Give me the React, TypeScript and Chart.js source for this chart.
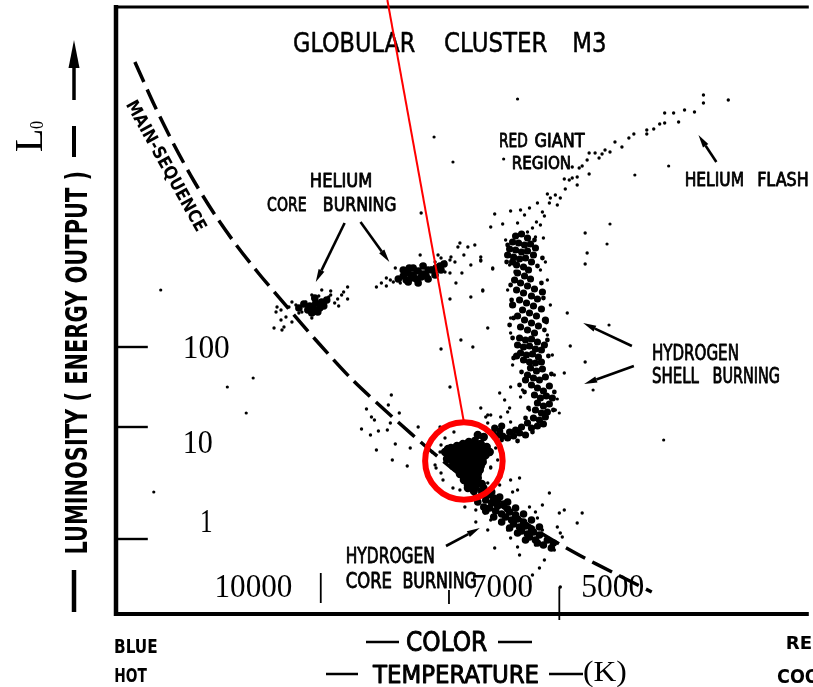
import React, { useEffect, useRef } from 'react';
import { Chart, registerables } from 'chart.js';

Chart.register(...registerables);

type Pt = [number, number];

// Colour axis (x): blue / hot on the left, red / cool on the right, in color-index units.
// Brightness axis (y): luminosity rises upward, in magnitude-like units.

// Dashed zero-age main sequence
const mainSequenceCurve: Pt[] = [
  [1.9, 55.2], [3.9, 50.8], [5.9, 46.8], [7.9, 43.2], [9.9, 40.0], [12.1, 36.9], [14.4, 34.0],
  [17.4, 30.5], [20.1, 27.4], [23.7, 23.5], [27.7, 19.8], [31.7, 16.3], [35.4, 13.3], [38.9, 10.7],
  [42.6, 8.2], [46.4, 6.0], [50.1, 4.1], [53.9, 2.2],
];

// Horizontal branch, blue part
const blueHorizontalBranch: Pt[] = [
  [23.3, 32.7], [22.7, 31.9], [23.3, 31.5], [22.3, 31.5], [22.4, 30.8], [21.6, 32.3], [21.6, 31.9],
  [21.1, 31.1], [20.4, 31.8], [19.7, 31.9], [19.1, 31.2], [19.7, 29.6], [17.7, 31.2], [18.1, 30.9],
  [17.4, 30.7], [16.2, 30.7], [16.6, 30.4], [16.1, 30.2], [17.1, 29.7], [16.6, 29.4], [17.7, 29.2],
  [18.4, 30.1], [18.7, 30.2], [15.9, 28.6], [16.7, 28.4], [16.9, 28.7], [21.4, 31.7], [20.7, 32.4],
  [20.2, 31.4], [22.0, 31.1], [22.9, 32.2],
];
const blueHorizontalBranchCore: Pt[] = [
  [18.9, 31.0], [19.5, 30.8], [20.1, 31.1], [20.7, 31.2], [19.3, 30.4], [19.9, 30.5], [20.5, 30.6],
  [19.7, 30.1], [20.3, 30.2], [20.9, 30.8], [18.4, 30.6], [21.2, 31.4], [20.0, 31.6],
];

// Horizontal branch, red part
const redHorizontalBranch: Pt[] = [
  [26.2, 32.7], [26.7, 33.1], [27.2, 32.8], [27.6, 33.4], [28.1, 34.6], [27.9, 33.2], [28.4, 33.6],
  [28.6, 33.1], [29.1, 34.1], [29.4, 34.4], [30.1, 34.2], [30.7, 34.9], [31.1, 34.1], [31.7, 34.6],
  [32.4, 34.9], [32.7, 35.6], [33.1, 35.2], [33.6, 35.4], [33.7, 35.7], [34.1, 35.2], [34.4, 36.7],
  [34.6, 37.1], [35.4, 36.7], [32.4, 35.9], [30.6, 35.9], [33.1, 34.2], [33.6, 34.1], [34.8, 34.1],
  [35.7, 34.9], [34.2, 33.1], [33.6, 31.5], [35.7, 31.7], [36.1, 36.9], [36.7, 35.4], [37.9, 34.6],
  [36.9, 32.3], [30.7, 40.1], [34.7, 27.4], [35.9, 26.7], [32.7, 26.5], [32.1, 35.2], [35.0, 35.9],
  [27.2, 33.6],
];
const redHorizontalBranchCore: Pt[] = [
  [28.9, 33.8], [29.4, 34.1], [29.9, 33.9], [30.4, 34.3], [30.9, 34.0], [31.4, 34.4], [29.2, 33.4],
  [29.7, 33.6], [30.2, 33.5], [30.7, 33.7], [31.2, 33.8], [31.8, 34.4], [32.2, 34.6], [32.6, 34.8],
  [33.0, 35.0], [29.5, 34.6], [28.4, 33.5], [28.9, 34.4], [29.9, 34.6], [30.9, 34.8], [29.4, 33.2],
  [30.4, 33.1], [31.4, 33.5], [32.1, 33.9], [32.7, 34.4],
];

// Red giant branch (hydrogen shell burning)
const redGiantBranchCore: Pt[] = [
  [40.2, 37.8], [40.8, 38.0], [41.4, 37.6], [39.9, 37.2], [40.5, 37.1], [41.1, 36.9], [41.7, 37.0],
  [39.6, 36.5], [40.2, 36.4], [40.8, 36.2], [41.4, 36.3], [42.0, 35.9], [40.0, 35.7], [40.6, 35.5],
  [41.2, 35.6], [41.8, 35.2], [40.3, 34.9], [41.0, 34.7], [41.5, 34.4], [39.9, 35.2], [42.2, 36.6],
  [39.4, 35.9],
  [40.4, 34.1], [41.1, 33.8], [41.7, 33.5], [40.7, 33.1], [41.4, 32.8], [42.1, 32.5], [40.3, 32.4],
  [41.0, 32.1], [41.8, 31.8], [42.4, 31.5], [40.6, 31.4], [41.3, 31.1], [42.0, 30.8], [40.9, 30.4],
  [41.6, 30.1], [42.3, 29.8], [40.4, 29.8], [41.1, 29.4], [41.8, 29.1], [42.5, 28.8], [40.7, 28.7],
  [41.4, 28.4], [42.1, 28.1], [42.8, 30.5], [42.9, 32.2], [39.9, 30.9], [43.2, 29.4], [40.1, 33.4],
  [40.6, 27.6], [41.2, 27.4], [41.8, 27.5], [42.4, 27.2], [40.4, 26.9], [41.0, 26.7], [41.6, 26.8],
  [42.2, 26.5], [42.8, 26.4], [40.7, 26.1], [41.3, 25.9], [41.9, 26.0], [42.5, 25.7], [41.0, 25.4],
  [41.6, 25.2], [42.2, 25.1], [42.8, 25.2], [40.3, 25.8], [43.1, 26.9],
  [41.7, 24.6], [42.3, 24.3], [42.9, 24.5], [41.4, 23.9], [42.0, 23.6], [42.6, 23.4], [43.2, 23.7],
  [41.8, 22.9], [42.4, 22.6], [43.0, 22.3], [42.1, 21.9], [42.7, 21.6], [43.3, 21.8], [42.4, 21.1],
  [43.0, 20.8], [43.6, 21.0], [42.2, 20.4], [42.8, 20.1], [43.4, 20.2], [42.0, 19.6], [42.6, 19.4],
  [43.2, 19.7], [41.2, 23.4], [43.6, 22.8], [43.9, 21.6],
  [41.4, 19.1], [40.8, 18.7], [40.2, 18.4], [39.6, 18.2], [41.8, 18.6], [42.4, 18.8], [38.9, 17.8],
  [39.4, 17.6], [40.0, 17.8], [40.6, 18.1], [41.2, 17.9], [43.0, 19.0],
  [38.1, 18.6], [38.6, 18.3], [38.3, 17.8], [38.8, 18.8], [37.9, 18.1],
];
// Ragged edges of the giant branch
const redGiantBranchEdge: Pt[] = [
  [39.4, 36.9], [42.1, 37.4], [39.3, 35.2], [42.4, 34.8], [39.7, 32.9], [42.8, 33.1], [39.8, 31.4],
  [43.0, 31.6], [40.0, 29.6], [43.3, 29.2], [39.9, 27.6], [43.4, 27.4], [40.0, 25.6], [43.5, 25.8],
  [40.8, 24.2], [43.8, 24.0], [41.1, 22.2], [44.1, 22.2], [41.5, 20.6], [44.0, 20.4], [41.2, 19.6],
  [38.8, 17.4], [40.4, 17.3], [41.9, 18.2], [42.9, 35.6], [40.2, 34.2], [39.6, 28.9], [43.1, 28.4],
  [40.6, 22.9],
];
const redGiantBranchStars: Pt[] = [
  [43.4, 42.0], [44.2, 41.9], [42.4, 41.1], [43.6, 41.1], [44.4, 40.9], [41.6, 40.6], [40.7, 40.4],
  [39.7, 40.3], [38.1, 40.0], [42.9, 40.2], [43.1, 39.8], [41.1, 39.9], [40.4, 39.1], [38.9, 39.0],
  [37.7, 38.7], [42.3, 39.2], [42.7, 38.9], [41.9, 38.6], [41.4, 38.2], [42.2, 37.7], [36.7, 35.7],
  [36.7, 35.3], [37.9, 34.5], [36.9, 32.4], [47.2, 38.1], [47.4, 36.1], [47.2, 35.0], [45.4, 30.1],
  [45.7, 26.8], [47.2, 25.2], [45.1, 24.1], [37.4, 28.6], [39.7, 28.1], [38.6, 22.1], [39.1, 21.4],
  [40.7, 21.7], [36.7, 20.6], [37.2, 19.7], [39.6, 34.9], [43.2, 35.2], [43.4, 33.4], [39.4, 32.4],
  [43.7, 30.9], [39.7, 29.6], [43.4, 27.9], [39.9, 24.9], [43.9, 25.9], [44.1, 23.9], [40.9, 22.4],
  [44.2, 20.4], [41.6, 20.4], [37.7, 19.9], [38.7, 19.7], [39.4, 20.2], [39.7, 22.7], [39.6, 20.6],
  [39.7, 19.2], [37.4, 19.1], [43.0, 37.6], [39.2, 37.4], [42.7, 34.4],
];

// Upper giant branch up to the helium flash
const upperGiantStars: Pt[] = [
  [59.1, 51.9], [59.1, 51.1], [61.6, 51.4], [58.2, 50.2], [57.2, 50.4], [56.1, 50.1], [55.2, 50.1],
  [56.6, 49.2], [55.2, 49.1], [54.7, 49.0], [54.1, 48.5], [53.4, 48.4], [53.4, 48.0], [52.1, 48.0],
  [51.6, 47.6], [50.2, 47.2], [50.9, 46.7], [49.7, 46.2], [49.2, 46.4], [48.9, 46.0], [48.2, 46.1],
  [48.6, 45.6], [47.6, 46.1], [47.4, 45.4], [46.9, 44.8], [46.6, 44.6], [47.6, 44.0], [46.4, 43.7],
  [45.9, 43.6], [45.6, 43.4], [45.1, 43.5], [46.4, 42.9], [45.2, 42.5], [44.7, 41.6], [43.7, 41.6],
  [45.9, 44.7],
];

// Turn-off and subgiant stars
const turnoffCore: Pt[] = [
  [33.1, 16.2], [33.7, 16.6], [34.3, 16.8], [34.9, 17.0], [35.5, 17.2], [36.1, 17.3], [36.7, 17.0],
  [37.3, 16.7], [33.6, 15.8], [34.2, 15.9], [34.8, 16.1], [35.4, 16.3], [36.0, 16.4], [36.6, 16.2],
  [37.2, 15.9], [33.9, 15.2], [34.5, 15.3], [35.1, 15.5], [35.7, 15.6], [36.3, 15.4], [36.9, 15.2],
  [34.2, 14.6], [34.8, 14.7], [35.4, 14.8], [36.0, 14.6], [36.6, 14.4], [34.6, 14.0], [35.2, 14.1],
  [35.8, 13.8], [36.4, 13.6], [35.0, 13.4], [35.6, 13.1], [36.2, 12.8], [36.8, 13.0], [35.4, 12.6],
  [36.0, 12.3], [33.9, 14.8], [33.3, 15.5], [37.0, 17.7], [37.6, 16.2], [36.4, 17.9],
  [33.4, 16.5], [34.0, 16.3], [34.6, 16.4], [35.2, 16.7], [35.8, 16.8], [36.4, 16.7], [37.0, 16.4],
  [33.9, 15.5], [34.5, 15.7], [35.1, 15.8], [35.7, 16.0], [36.3, 15.8], [36.9, 15.6], [34.3, 15.0],
  [34.9, 15.1], [35.5, 15.2], [36.1, 15.0], [36.7, 14.8], [34.6, 14.4], [35.2, 14.4], [35.8, 14.2],
  [36.4, 14.0], [35.0, 13.7], [35.6, 13.5], [36.2, 13.3], [35.4, 12.9], [36.0, 12.6],
];

// Main sequence below the turn-off (hydrogen core burning)
const mainSequenceCore: Pt[] = [
  [36.8, 12.2], [37.4, 11.9], [38.0, 11.6], [37.2, 11.4], [37.8, 11.1], [38.4, 10.8], [37.6, 10.6],
  [38.2, 10.3], [38.8, 10.0], [38.4, 11.4], [39.0, 11.0], [39.4, 10.5], [39.2, 9.7], [39.8, 9.4],
  [39.6, 10.2], [40.2, 9.9], [40.0, 9.0], [40.6, 8.7], [40.4, 9.5], [41.0, 9.2], [40.8, 8.3],
  [41.4, 8.0], [41.2, 8.8], [41.8, 8.5], [41.6, 7.7], [42.2, 7.4], [42.0, 8.2], [42.6, 7.9],
  [42.4, 7.1], [43.0, 6.9], [43.4, 7.4], [44.0, 7.1], [43.8, 6.6], [37.0, 10.7], [36.2, 11.6],
  [37.0, 12.6], [37.8, 12.2], [38.6, 11.7], [39.4, 11.2], [40.2, 10.6], [41.0, 10.0], [41.8, 9.4],
  [42.6, 8.7], [36.4, 11.2], [37.2, 10.3], [38.0, 9.7], [38.8, 9.2], [39.6, 8.6], [40.4, 8.1],
  [41.2, 7.4],
];
const turnoffStars: Pt[] = [
  [27.7, 21.9], [27.4, 20.9], [25.2, 20.5], [28.5, 20.1], [25.7, 19.7], [26.0, 19.4], [27.6, 19.1],
  [24.7, 18.5], [26.4, 18.3], [27.3, 18.4], [25.6, 17.9], [30.4, 18.7], [28.1, 17.0], [29.6, 16.6],
  [26.2, 16.4], [27.8, 15.4], [29.3, 14.8], [34.0, 18.2], [33.1, 17.6], [32.7, 16.9], [32.6, 16.2],
  [31.8, 16.2], [32.1, 14.9], [32.2, 14.6], [32.7, 14.1], [32.9, 13.4], [33.9, 12.6], [34.6, 12.4],
  [38.2, 16.6], [38.4, 15.4], [37.7, 14.6], [37.4, 13.1], [35.1, 10.7], [39.7, 13.4], [39.9, 12.2],
  [40.6, 13.6], [40.4, 12.4], [43.6, 12.1], [42.9, 10.9], [45.1, 10.4], [46.9, 10.1], [44.6, 10.1],
  [42.2, 10.2], [42.4, 9.6], [41.6, 10.7], [46.4, 9.1], [44.4, 8.7], [42.9, 8.4], [44.7, 8.1],
  [44.9, 7.7], [44.2, 7.2], [44.1, 6.4], [42.2, 6.9], [40.4, 6.7], [39.7, 7.6], [39.4, 8.4],
  [38.9, 9.2], [37.7, 9.4], [37.1, 10.1], [36.2, 10.4], [36.2, 9.2], [37.4, 8.4], [38.1, 6.6],
  [40.6, 5.9], [43.1, 5.4], [42.6, 4.6], [41.9, 3.9], [44.7, 2.7], [38.7, 13.7], [38.6, 12.9],
  [37.7, 14.7], [33.6, 22.7], [32.6, 18.7], [37.4, 19.9],
];

// Scattered field stars
const fieldStars: Pt[] = [
  [4.5, 32.4], [11.2, 22.7], [13.8, 23.6], [13.1, 20.1], [3.8, 12.2], [55.1, 17.4], [49.6, 28.9],
  [48.0, 22.4], [44.4, 21.5], [44.6, 20.1], [32.0, 47.7], [33.9, 45.2], [39.0, 45.5], [49.7, 39.0],
  [49.4, 37.0], [55.6, 44.8], [52.2, 43.9], [40.4, 51.5],
];

// Axis ticks
const luminosityTicks = [26.7, 18.7, 7.5];
const luminosityLabels = ['100', '10', '1'];
const temperatureTicks = [20.6, 33.5, 44.6];
const temperatureLabels = ['10000', '7000', '5000'];

const INK = '#000';
const RED = '#ff0000';
const SANS = '"DejaVu Sans Condensed", "DejaVu Sans", sans-serif';
const SERIF = '"Liberation Serif", "DejaVu Serif", serif';

// Tick label placement: [left, right, baseline] in axis units
const luminosityLabelBoxes: [number, number, number][] = [[6.9, 11.4, 25.6], [6.9, 9.7, 16.1], [8.6, 9.6, 8.2]];
const temperatureLabelBoxes: [number, number, number][] = [[10.1, 17.7, 1.7], [35.9, 41.9, 1.7], [46.9, 53.1, 1.7]];
// Temperature tick extents [from, to] on the brightness axis
const temperatureTickSpans: [number, number][] = [[4.1, 1.1], [2.4, 1.0], [2.7, -0.6]];

// Words placed inside the plot: left, right, baseline (axis units), cap height (px)
const plotWords = [
  { t: 'GLOBULAR', x0: 17.9, x1: 30.1, y: 56.2, cap: 20 },
  { t: 'CLUSTER', x0: 33.1, x1: 43.4, y: 56.2, cap: 20 },
  { t: 'M3', x0: 46.1, x1: 49.2, y: 56.2, cap: 20 },
  { t: 'HELIUM', x0: 19.6, x1: 25.7, y: 42.7, cap: 14 },
  { t: 'CORE', x0: 15.2, x1: 19.1, y: 40.3, cap: 14 },
  { t: 'BURNING', x0: 20.9, x1: 28.1, y: 40.3, cap: 14 },
  { t: 'RED', x0: 38.6, x1: 41.4, y: 46.7, cap: 14 },
  { t: 'GIANT', x0: 42.1, x1: 47.2, y: 46.7, cap: 14 },
  { t: 'REGION', x0: 39.9, x1: 45.7, y: 44.5, cap: 13 },
  { t: 'HELIUM', x0: 57.3, x1: 63.1, y: 42.8, cap: 14 },
  { t: 'FLASH', x0: 64.6, x1: 69.6, y: 42.8, cap: 14 },
  { t: 'HYDROGEN', x0: 54.0, x1: 62.6, y: 25.4, cap: 15 },
  { t: 'SHELL', x0: 54.0, x1: 58.7, y: 23.1, cap: 15 },
  { t: 'BURNING', x0: 60.1, x1: 66.7, y: 23.1, cap: 15 },
  { t: 'HYDROGEN', x0: 23.2, x1: 32.0, y: 5.1, cap: 15 },
  { t: 'CORE', x0: 23.2, x1: 27.7, y: 2.6, cap: 15 },
  { t: 'BURNING', x0: 28.9, x1: 36.2, y: 2.6, cap: 15 },
];

// Pointer arrows: tail -> head, axis units
const pointers: [number, number, number, number][] = [
  [23.0, 39.1, 20.1, 33.2],
  [24.6, 39.2, 27.5, 35.2],
  [60.4, 45.2, 58.6, 47.9],
  [51.9, 26.8, 47.0, 29.1],
  [52.1, 24.8, 47.1, 23.0],
  [33.2, 6.8, 36.6, 8.6],
];

// Highlight of the turn-off region
const highlightLine: [number, number, number, number] = [27.3, 61.4, 35.0, 19.2];
const highlightCircle = { x: 35.0, y: 15.3, r: 3.9 };

const DEJAVU_CAP = 0.729;

function fitText(
  ctx: CanvasRenderingContext2D,
  text: string,
  x: number,
  y: number,
  width: number,
  size: number,
  family: string,
  weight = 'normal',
  thicken = 0
) {
  ctx.font = `${weight} ${size}px ${family}`;
  const m = ctx.measureText(text);
  const ink = m.actualBoundingBoxLeft + m.actualBoundingBoxRight;
  const s = width / ink;
  ctx.save();
  ctx.translate(x, y);
  ctx.scale(s, 1);
  ctx.fillText(text, m.actualBoundingBoxLeft, 0);
  if (thicken > 0) {
    ctx.lineWidth = thicken;
    ctx.lineJoin = 'round';
    ctx.strokeText(text, m.actualBoundingBoxLeft, 0);
  }
  ctx.restore();
}

function drawArrow(ctx: CanvasRenderingContext2D, x1: number, y1: number, x2: number, y2: number, width = 2.6) {
  const a = Math.atan2(y2 - y1, x2 - x1);
  const len = 13;
  const half = 3.2;
  const bx = x2 - len * Math.cos(a);
  const by = y2 - len * Math.sin(a);
  ctx.lineWidth = width;
  ctx.beginPath();
  ctx.moveTo(x1, y1);
  ctx.lineTo(bx, by);
  ctx.stroke();
  ctx.beginPath();
  ctx.moveTo(x2, y2);
  ctx.lineTo(bx + half * Math.sin(a), by - half * Math.cos(a));
  ctx.lineTo(bx - half * Math.sin(a), by + half * Math.cos(a));
  ctx.closePath();
  ctx.fill();
}

function line(ctx: CanvasRenderingContext2D, x1: number, y1: number, x2: number, y2: number, w: number) {
  ctx.lineWidth = w;
  ctx.beginPath();
  ctx.moveTo(x1, y1);
  ctx.lineTo(x2, y2);
  ctx.stroke();
}

const decorPlugin = {
  id: 'hrDecor',
  afterDraw(chart: any) {
    const ctx: CanvasRenderingContext2D = chart.ctx;
    const xs = chart.scales.x;
    const ys = chart.scales.y;
    const X = (v: number) => xs.getPixelForValue(v);
    const Y = (v: number) => ys.getPixelForValue(v);
    const area = chart.chartArea;

    ctx.save();
    ctx.fillStyle = INK;
    ctx.strokeStyle = INK;
    ctx.lineCap = 'butt';
    ctx.textBaseline = 'alphabetic';
    ctx.textAlign = 'left';

    // frame
    line(ctx, area.left, area.top - 2, area.left, area.bottom + 2, 4.5);
    line(ctx, area.left - 2, area.top, area.right, area.top, 3);
    line(ctx, area.left - 2, area.bottom, area.right, area.bottom, 4);

    // luminosity ticks and labels
    luminosityTicks.forEach((v, i) => {
      line(ctx, area.left, Y(v), X(3.2), Y(v), 2.4);
      const [a, b, base] = luminosityLabelBoxes[i];
      fitText(ctx, luminosityLabels[i], X(a), Y(base), X(b) - X(a), 33, SERIF);
    });

    // temperature ticks and labels
    temperatureTicks.forEach((v, i) => {
      const [from, to] = temperatureTickSpans[i];
      line(ctx, X(v), Y(from), X(v), Y(to), 1.8);
      const [a, b, base] = temperatureLabelBoxes[i];
      fitText(ctx, temperatureLabels[i], X(a), Y(base), X(b) - X(a), 33, SERIF);
    });

    // plot annotations
    plotWords.forEach((w) => {
      fitText(ctx, w.t, X(w.x0), Y(w.y), X(w.x1) - X(w.x0), w.cap / DEJAVU_CAP, SANS, 'normal', w.cap > 16 ? 0.5 : 0.8);
    });
    pointers.forEach(([a, b, c, d]) => drawArrow(ctx, X(a), Y(b), X(c), Y(d)));

    // main-sequence label along the curve
    {
      const sx = X(1.0), sy = Y(50.9), ex = X(8.1), ey = Y(38.2);
      const ang = Math.atan2(ey - sy, ex - sx);
      const len = Math.hypot(ex - sx, ey - sy);
      ctx.save();
      ctx.translate(sx, sy);
      ctx.rotate(ang);
      fitText(ctx, 'MAIN-SEQUENCE', 0, 0, len, 13 / DEJAVU_CAP, SANS, 'bold');
      ctx.restore();
    }

    // vertical axis title
    ctx.save();
    ctx.translate(87, 553);
    ctx.rotate(-Math.PI / 2);
    fitText(ctx, 'LUMINOSITY ( ENERGY OUTPUT )', 0, 0, 381, 22 / DEJAVU_CAP, SANS, 'bold');
    ctx.restore();
    line(ctx, 74, 570, 74, 612, 4.5);
    line(ctx, 74, 126, 74, 157, 4);
    line(ctx, 74, 100, 74, 64, 3.5);
    ctx.beginPath();
    ctx.moveTo(74, 40);
    ctx.lineTo(68.5, 68);
    ctx.lineTo(79.5, 68);
    ctx.closePath();
    ctx.fill();

    // L0
    ctx.save();
    ctx.translate(42, 151);
    ctx.rotate(-Math.PI / 2);
    fitText(ctx, 'L', 0, 0, 21, 40, SERIF);
    fitText(ctx, '0', 22, 1, 8, 18, SERIF);
    ctx.restore();

    // horizontal axis captions
    fitText(ctx, 'BLUE', 115, 653, 42, 14 / DEJAVU_CAP, SANS, 'bold');
    fitText(ctx, 'HOT', 115, 682, 32, 14 / DEJAVU_CAP, SANS, 'bold');
    fitText(ctx, 'RED', 787, 649, 40, 13 / DEJAVU_CAP, SANS, 'bold');
    fitText(ctx, 'COOL', 777, 683, 54, 14 / DEJAVU_CAP, SANS, 'bold');
    fitText(ctx, 'COLOR', 407, 651, 80, 19 / DEJAVU_CAP, SANS, 'normal', 0.9);
    line(ctx, 366, 642, 399, 642, 2.5);
    line(ctx, 498, 642, 532, 642, 2.5);
    fitText(ctx, 'TEMPERATURE', 372, 683, 166, 18 / DEJAVU_CAP, SANS, 'normal', 0.9);
    line(ctx, 326, 674, 358, 674, 2.5);
    line(ctx, 549, 674, 583, 674, 2.5);
    fitText(ctx, '(K)', 584, 681, 42, 29, SERIF);

    // highlight
    ctx.strokeStyle = RED;
    const [l1, l2, l3, l4] = highlightLine;
    line(ctx, X(l1), Y(l2), X(l3), Y(l4), 2);
    const cx = X(highlightCircle.x);
    const cy = Y(highlightCircle.y);
    const r = X(highlightCircle.x + highlightCircle.r) - cx;
    ctx.lineWidth = 6;
    ctx.beginPath();
    ctx.arc(cx, cy, r, 0, Math.PI * 2);
    ctx.stroke();

    ctx.restore();
  },
};

const toXY = (pts: Pt[]) => pts.map(([x, y]) => ({ x, y }));

const starSet = (label: string, pts: Pt[], radius: number) => ({
  type: 'scatter' as const,
  label,
  data: toXY(pts),
  pointRadius: radius,
  pointHoverRadius: radius,
  pointBackgroundColor: INK,
  pointBorderWidth: 0,
  borderColor: INK,
  showLine: false,
});

export default function App() {
  const canvasRef = useRef<HTMLCanvasElement>(null);

  useEffect(() => {
    const canvas = canvasRef.current;
    if (!canvas) return;
    const chart = new Chart(canvas, {
      type: 'scatter',
      data: {
        datasets: [
          {
            type: 'line',
            label: 'Main sequence',
            data: toXY(mainSequenceCurve),
            borderColor: INK,
            borderWidth: 3.5,
            borderDash: [22, 8],
            pointRadius: 0,
            tension: 0.3,
            fill: false,
          } as any,
          starSet('Blue horizontal branch core', blueHorizontalBranchCore, 3.8),
          starSet('Blue horizontal branch', blueHorizontalBranch, 1.7),
          starSet('Red horizontal branch core', redHorizontalBranchCore, 3.8),
          starSet('Red horizontal branch', redHorizontalBranch, 1.7),
          starSet('Red giant branch core', redGiantBranchCore, 3.6),
          starSet('Red giant branch edge', redGiantBranchEdge, 2.4),
          starSet('Red giant branch', redGiantBranchStars, 1.7),
          starSet('Upper giant branch', upperGiantStars, 1.7),
          starSet('Turn-off core', turnoffCore, 4.2),
          starSet('Main sequence core', mainSequenceCore, 3.8),
          starSet('Turn-off region', turnoffStars, 1.7),
          starSet('Field stars', fieldStars, 1.6),
        ],
      },
      options: {
        responsive: false,
        animation: false,
        devicePixelRatio: 1,
        events: [],
        layout: { padding: { left: 116, top: 7, right: 0, bottom: 73 } },
        plugins: { legend: { display: false }, tooltip: { enabled: false } },
        scales: {
          x: { type: 'linear', min: 0, max: 69.7, display: false },
          y: { type: 'linear', min: 0, max: 60.7, display: false },
        },
      },
      plugins: [decorPlugin],
    });
    return () => chart.destroy();
  }, []);

  return (
    <div style={{ position: 'absolute', left: 0, top: 0, width: 813, height: 687, background: '#fff' }}>
      <canvas ref={canvasRef} width={813} height={687} style={{ display: 'block', width: 813, height: 687 }} />
    </div>
  );
}
